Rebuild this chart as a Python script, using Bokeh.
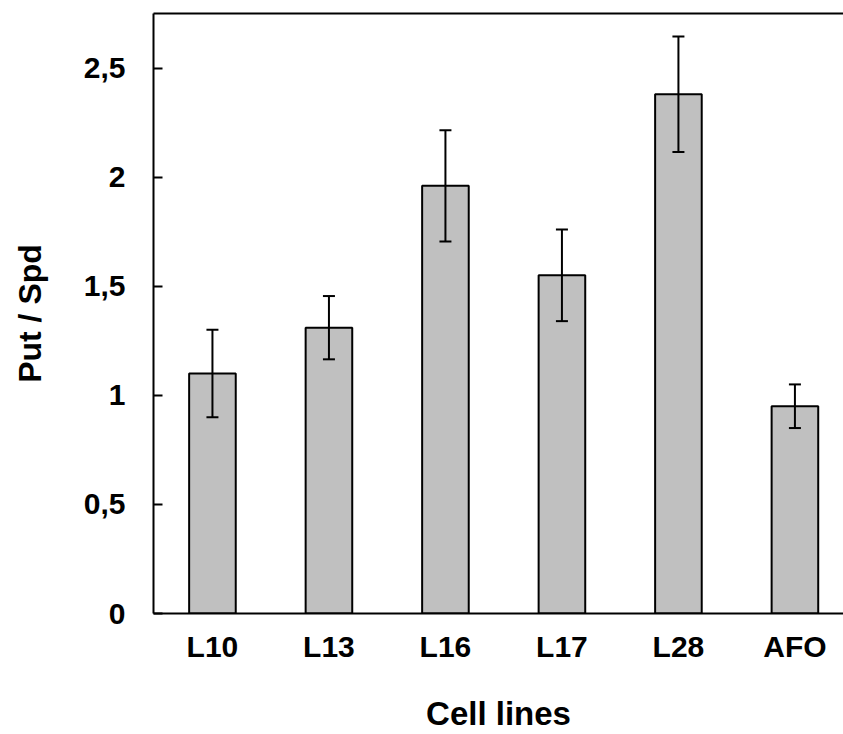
from bokeh.plotting import figure
from bokeh.models import (ColumnDataSource, Range1d, FixedTicker, LinearAxis,
                          Whisker, TeeHead)
from bokeh.embed import file_html
from bokeh.resources import INLINE

cell_lines = ["L10", "L13", "L16", "L17", "L28", "AFO"]
put_spd = [1.10, 1.31, 1.96, 1.55, 2.38, 0.95]
sd = [0.20, 0.145, 0.255, 0.21, 0.265, 0.10]
y_ticks = [0, 0.5, 1, 1.5, 2, 2.5]
y_tick_labels = ["0", "0,5", "1", "1,5", "2", "2,5"]
x_title = "Cell lines"
y_title = "Put / Spd"

xs = list(range(len(cell_lines)))
src = ColumnDataSource(dict(
    x=xs, top=put_spd,
    upper=[m + s for m, s in zip(put_spd, sd)],
    lower=[m - s for m, s in zip(put_spd, sd)],
))

FONT = "Liberation Sans"

p = figure(width=843, height=734, output_backend="svg", toolbar_location=None,
           x_range=Range1d(-0.506, 5.417), y_range=Range1d(0, 2.75),
           x_axis_location=None, y_axis_location=None,
           min_border_left=153, min_border_right=0, min_border_top=13,
           min_border_bottom=121)
p.outline_line_color = None
p.outline_line_alpha = 0
p.grid.visible = False
p.background_fill_color = "white"
p.border_fill_color = "white"

p.vbar(x="x", top="top", width=0.4, source=src, fill_color="#c0c0c0",
       line_color="black", line_width=2)

w = Whisker(base="x", upper="upper", lower="lower", source=src,
            line_color="black", line_width=2, level="annotation",
            upper_head=TeeHead(size=12, line_width=2, line_color="black"),
            lower_head=TeeHead(size=12, line_width=2, line_color="black"))
p.add_layout(w)

# left axis
yax = LinearAxis(ticker=FixedTicker(ticks=y_ticks),
                 major_label_overrides={t: l for t, l in zip(y_ticks, y_tick_labels)},
                 axis_label=y_title)
yax.major_tick_in = 9
yax.major_tick_out = 0
yax.minor_tick_in = 0
yax.minor_tick_out = 0
yax.axis_line_width = 2
yax.major_tick_line_width = 2
yax.major_label_standoff = 28
yax.major_label_text_font = FONT
yax.major_label_text_font_style = "bold"
yax.major_label_text_font_size = "30px"
yax.major_label_text_color = "black"
yax.axis_label_text_font = FONT
yax.axis_label_text_font_style = "bold"
yax.axis_label_text_font_size = "32px"
yax.axis_label_text_color = "black"
yax.axis_label_standoff = 33
p.add_layout(yax, "left")

# bottom axis
xax = LinearAxis(ticker=FixedTicker(ticks=xs),
                 major_label_overrides={x: c for x, c in zip(xs, cell_lines)},
                 axis_label=x_title)
xax.major_tick_in = 0
xax.major_tick_out = 0
xax.minor_tick_in = 0
xax.minor_tick_out = 0
xax.axis_line_width = 2
xax.major_label_standoff = 16
xax.major_label_text_font = FONT
xax.major_label_text_font_style = "bold"
xax.major_label_text_font_size = "30px"
xax.major_label_text_color = "black"
xax.axis_label_text_font = FONT
xax.axis_label_text_font_style = "bold"
xax.axis_label_text_font_size = "33px"
xax.axis_label_text_color = "black"
xax.axis_label_standoff = 29
p.add_layout(xax, "below")

# top border line
tax = LinearAxis(ticker=FixedTicker(ticks=[]))
tax.major_tick_in = 0
tax.major_tick_out = 0
tax.minor_tick_in = 0
tax.minor_tick_out = 0
tax.major_label_standoff = 0
tax.axis_line_width = 2
p.add_layout(tax, "above")

open("out.html", "w").write(file_html(p, INLINE))
